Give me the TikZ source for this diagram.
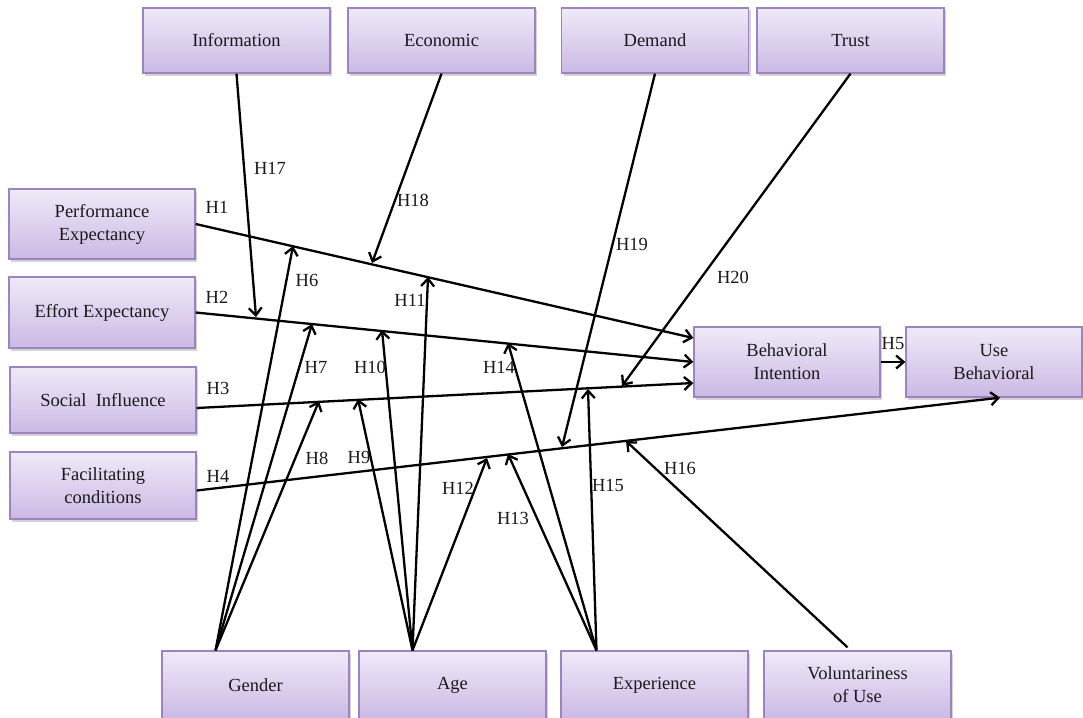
\documentclass[tikz,border=0pt]{standalone}
\usepackage{fontspec}
\setmainfont{Liberation Serif}
\usetikzlibrary{arrows.meta,shadows,calc}
\definecolor{boxtop}{HTML}{EFEAF8}
\definecolor{boxbot}{HTML}{CBB9E4}
\definecolor{boxline}{HTML}{9C84C0}
\definecolor{labcol}{HTML}{1A1A1A}
\begin{document}
\begin{tikzpicture}[x=1pt,y=-1pt,
  box/.style={draw=boxline, line width=1.3pt, top color=boxtop, bottom color=boxbot,
    minimum width=187pt, inner sep=0pt, align=center, text=labcol,
    font=\fontsize{18.5}{23}\selectfont,
    drop shadow={shadow xshift=2pt, shadow yshift=-2.5pt, opacity=0.35}},
  arr/.style={line width=2.3pt, -{Straight Barb[length=7.5pt,width=13pt,line width=2.3pt]}},
  lab/.style={font=\fontsize{18.5}{20}\selectfont, inner sep=0pt, text=labcol}]
\useasboundingbox (0,0) rectangle (1083,717);
% top boxes
\node[box, minimum height=65pt] (info)   at (236.5,40.5) {Information};
\node[box, minimum height=65pt] (econ)   at (441.5,40.5) {Economic};
\node[box, minimum height=65pt] (demand) at (655,40.5)   {Demand};
\node[box, minimum height=65pt] (trust)  at (850.5,40.5) {Trust};
% left boxes
\node[box, minimum width=186pt, minimum height=70pt] (pe) at (102,224)   {Performance\\Expectancy};
\node[box, minimum width=186pt, minimum height=71pt] (ee) at (102,312.5) {Effort Expectancy};
\node[box, minimum width=186pt, minimum height=66pt] (si) at (103,400)   {Social\ \ Influence};
\node[box, minimum width=186pt, minimum height=67pt] (fc) at (103,485.5) {Facilitating\\conditions};
% right boxes
\node[box, minimum width=186pt, minimum height=70pt] (bi) at (787,362) {Behavioral\\Intention};
\node[box, minimum width=176pt, minimum height=70pt] (ub) at (994,362) {Use\\Behavioral};
% bottom boxes
\node[box, minimum height=68pt] (gender) at (255.5,685) {Gender};
\node[box, minimum height=68pt] (age)    at (452.5,685) {Age};
\node[box, minimum height=68pt] (exp)    at (654.5,685) {Experience};
\node[box, minimum height=68pt] (vol)    at (857.5,685) {Voluntariness\\of Use};
% tip coordinates
\coordinate (c6)  at (293,246);
\coordinate (c7)  at (312,324);
\coordinate (c8)  at (319,401);
\coordinate (c9)  at (358,399);
\coordinate (c10) at (382,330);
\coordinate (c11) at (428,277);
\coordinate (c12) at (487,458);
\coordinate (c13) at (508,454);
\coordinate (c14) at (508,343);
\coordinate (c15) at (588,389);
\coordinate (c16) at (626,441);
\coordinate (c17) at (256,317);
\coordinate (c18) at (372,263);
\coordinate (c19) at (562,447);
\coordinate (c20) at (622,386);
% main paths
\draw[arr] (pe.east) -- ([yshift=24pt]bi.west);
\draw[arr] (ee.east) -- (bi.west);
\draw[arr] ([yshift=-8pt]si.east) -- ([yshift=-21pt]bi.west);
\draw[arr] ([yshift=-5pt]fc.east) -- ([xshift=6pt]ub.south);
\draw[arr] (bi.east) -- (ub.west);
% top moderators
\draw[arr] (info.south) -- (c17);
\draw[arr] (econ.south) -- (c18);
\draw[arr] (demand.south) -- (c19);
\draw[arr] (trust.south) -- (c20);
% bottom moderators
\draw[arr] ([xshift=-40pt]gender.north) -- (c6);
\draw[arr] ([xshift=-40pt]gender.north) -- (c7);
\draw[arr] ([xshift=-40pt]gender.north) -- (c8);
\draw[arr] ([xshift=-40pt]age.north) -- (c9);
\draw[arr] ([xshift=-40pt]age.north) -- (c10);
\draw[arr] ([xshift=-40pt]age.north) -- (c11);
\draw[arr] ([xshift=-40pt]age.north) -- (c12);
\draw[arr] ([xshift=-58pt]exp.north) -- (c13);
\draw[arr] ([xshift=-58pt]exp.north) -- (c14);
\draw[arr] ([xshift=-58pt]exp.north) -- (c15);
\draw[arr] ([xshift=-10pt,yshift=3pt]vol.north) -- (c16);
% labels
\node[lab] (l1)  at (217,207) {H1};
\node[lab] (l2)  at (217,297) {H2};
\node[lab] (l3)  at (218,388) {H3};
\node[lab] (l4)  at (218,476) {H4};
\node[lab] (l5)  at (893,344) {H5};
\node[lab] (l6)  at (307,280) {H6};
\node[lab] (l7)  at (316,367) {H7};
\node[lab] (l8)  at (317,458) {H8};
\node[lab] (l9)  at (359,457) {H9};
\node[lab] (l10) at (370,367) {H10};
\node[lab] (l11) at (410,300) {H11};
\node[lab] (l12) at (458,488) {H12};
\node[lab] (l13) at (513,518) {H13};
\node[lab] (l14) at (499,367) {H14};
\node[lab] (l15) at (608,485) {H15};
\node[lab] (l16) at (680,468) {H16};
\node[lab] (l17) at (270,168) {H17};
\node[lab] (l18) at (413,200) {H18};
\node[lab] (l19) at (632,244) {H19};
\node[lab] (l20) at (733,277) {H20};
\end{tikzpicture}
\end{document}
